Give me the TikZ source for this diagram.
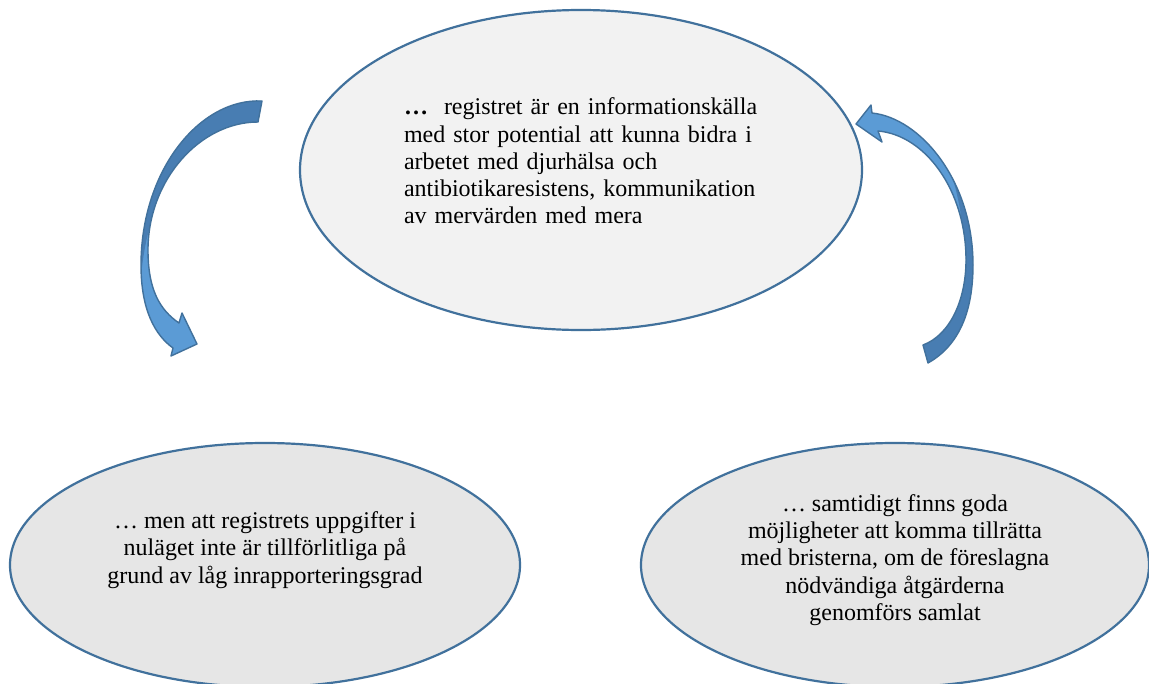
\documentclass[tikz,border=0pt]{standalone}
\usepackage{fontspec}
\setmainfont{Liberation Serif}
\usetikzlibrary{shapes.geometric}
\definecolor{edgeblue}{RGB}{65,113,156}
\definecolor{lightblue}{RGB}{91,155,213}
\definecolor{darkblue}{RGB}{72,125,178}
\definecolor{topfill}{RGB}{242,242,242}
\definecolor{botfill}{RGB}{230,230,230}
\begin{document}
\begin{tikzpicture}[x=1pt,y=-1pt,
  bubble/.style={ellipse, draw=edgeblue, line width=2.2pt, inner sep=0pt},
  txt/.style={inner sep=0pt, font=\fontsize{24pt}{27.3pt}\selectfont},
  arrowline/.style={draw=edgeblue, line width=1.4pt, line join=round},
  darkband/.style={fill=darkblue}]
\useasboundingbox (0,0) rectangle (1149,683);
\clip (0,0) rectangle (1149,683);
\fill[white] (0,0) rectangle (1149,683);

\node[bubble, fill=topfill, minimum width=562pt, minimum height=320pt] (top) at (581,170) {};
\node[bubble, fill=botfill, minimum width=510pt, minimum height=244pt] (left) at (265,565) {};
\node[bubble, fill=botfill, minimum width=508pt, minimum height=244pt] (right) at (895,565) {};

\node[txt, text width=380pt, align=left] (toptext) at (594,161)
 {\textbf{…}\ \ registret är en informationskälla\\
  med stor potential att kunna bidra i\\
  arbetet med djurhälsa och\\
  antibiotikaresistens, kommunikation\\
  av mervärden med mera};
\node[txt, align=center] (lefttext) at (265,550)
 {… men att registrets uppgifter i\\
  nuläget inte är tillförlitliga på\\
  grund av låg inrapporteringsgrad};
\node[txt, align=center] (righttext) at (895,560)
 {… samtidigt finns goda\\
  möjligheter att komma tillrätta\\
  med bristerna, om de föreslagna\\
  nödvändiga åtgärderna\\
  genomförs samlat};

% left curved arrow
\def\leftarrowpath{(262,101) .. controls (200,98) and (141,170) .. (141,265)
  .. controls (141,310) and (155,335) .. (173,348)
  -- (171,356) -- (197,344) -- (182,313) -- (179,323)
  .. controls (160,310) and (148,290) .. (148,250)
  .. controls (148,180) and (200,122) .. (258,122) -- cycle}
\fill[lightblue] \leftarrowpath;
\begin{scope}
  \clip \leftarrowpath;
  \fill[darkband] (128,292) -- (141,278) .. controls (145,225) and (163,180) .. (187,156)
    -- (275,150) -- (275,80) -- (110,80) -- (110,292) -- cycle;
\end{scope}
\draw[arrowline] \leftarrowpath;

% right curved arrow
\def\rightarrowpath{(928,363) .. controls (960,345) and (973,310) .. (973,265)
  .. controls (973,180) and (920,118) .. (872,113)
  -- (871,105) -- (856,124) -- (882,142) -- (878,131)
  .. controls (925,135) and (966,190) .. (966,260)
  .. controls (966,300) and (950,335) .. (923,345) -- cycle}
\fill[lightblue] \rightarrowpath;
\begin{scope}
  \clip \rightarrowpath;
  \fill[darkband] (938,152) -- (948,165) .. controls (958,190) and (964,225) .. (965,262)
    -- (900,300) -- (900,380) -- (995,380) -- (995,152) -- cycle;
\end{scope}
\draw[arrowline] \rightarrowpath;
\end{tikzpicture}
\end{document}
